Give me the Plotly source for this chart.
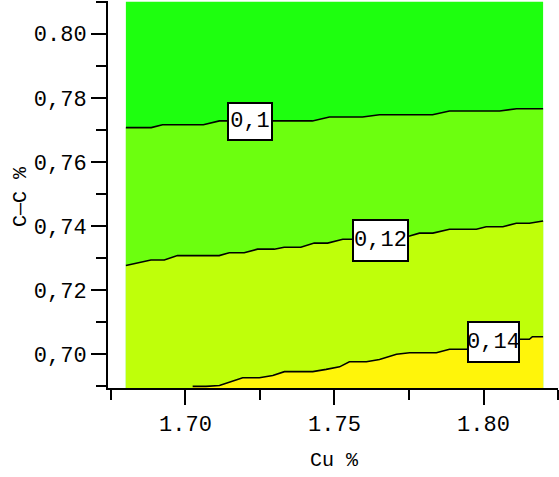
import plotly.graph_objects as go

# Data
x_edges = [1.68, 1.82]
y_top = [0.81, 0.81]

x_c010 = [1.68, 1.6885, 1.6923, 1.706, 1.7114, 1.7426, 1.7483, 1.7594, 1.7651,
          1.7829, 1.7886, 1.8054, 1.8111, 1.82]
y_c010 = [0.7707, 0.7707, 0.7716, 0.7716, 0.7728, 0.7728, 0.7740, 0.7740, 0.7747,
          0.7747, 0.7759, 0.7759, 0.7766, 0.7766]

x_c012 = [1.68, 1.6833, 1.6884, 1.6929, 1.6973, 1.7113, 1.7147, 1.7197, 1.7242,
          1.7298, 1.7331, 1.7387, 1.7432, 1.7477, 1.7510, 1.7528, 1.7561, 1.7752,
          1.7785, 1.7830, 1.7886, 1.7976, 1.8009, 1.8065, 1.8110, 1.8154, 1.82]
y_c012 = [0.7277, 0.7284, 0.7294, 0.7294, 0.7308, 0.7308, 0.7317, 0.7317, 0.7328,
          0.7328, 0.7334, 0.7334, 0.7347, 0.7347, 0.7355, 0.7359, 0.7359, 0.7369,
          0.7378, 0.7378, 0.7390, 0.7390, 0.7398, 0.7398, 0.7409, 0.7409, 0.7416]

x_c014 = [1.7024, 1.7069, 1.7114, 1.7153, 1.7192, 1.7248, 1.7293, 1.7332, 1.7427,
          1.7472, 1.7517, 1.7550, 1.7607, 1.7651, 1.7708, 1.7752, 1.7842, 1.7886,
          1.7943, 1.8121, 1.8154, 1.8164, 1.82]
y_c014 = [0.69, 0.69, 0.6903, 0.6914, 0.6927, 0.6927, 0.6934, 0.6946, 0.6946,
          0.6953, 0.6961, 0.6977, 0.6977, 0.6984, 0.7000, 0.7005, 0.7005, 0.7016,
          0.7016, 0.7047, 0.7047, 0.7055, 0.7055]

level_labels = ["0,1", "0,12", "0,14"]
label_x = [1.7218, 1.7656, 1.8034]
label_y = [0.7725, 0.7355, 0.7038]

x_tickvals = [1.70, 1.75, 1.80]
x_ticktext = ["1.70", "1.75", "1.80"]
y_tickvals = [0.70, 0.72, 0.74, 0.76, 0.78, 0.80]
y_ticktext = ["0,70", "0,72", "0,74", "0,76", "0,78", "0.80"]

x_title = "Cu %"
y_title = "C—C %"

band_colors = ["#1eff0f", "#6cff0f", "#bfff0a", "#fff50a"]
FONT = "Liberation Mono"

fig = go.Figure()
fills = [(x_edges, y_top), (x_c010, y_c010), (x_c012, y_c012), (x_c014, y_c014)]
for (xs, ys), col in zip(fills, band_colors):
    fig.add_trace(go.Scatter(x=xs, y=ys, mode="lines", line=dict(width=0, color=col),
                             fill="tozeroy", fillcolor=col, hoverinfo="skip",
                             showlegend=False))
for xs, ys in fills[1:]:
    fig.add_trace(go.Scatter(x=xs, y=ys, mode="lines", line=dict(width=1.6, color="black"),
                             hoverinfo="skip", showlegend=False))

sizes = [(42, 35), (53, 39), (49, 38)]
for t, xx, yy, (w, h) in zip(level_labels, label_x, label_y, sizes):
    fig.add_annotation(x=xx, y=yy, text=t, showarrow=False,
                       font=dict(family=FONT, size=22, color="black"),
                       bgcolor="white", bordercolor="black", borderwidth=2,
                       borderpad=0, width=w, height=h)

fig.add_annotation(x=0.5044, y=-0.1886, xref="paper", yref="paper", text=x_title,
                   xanchor="center", yanchor="middle",
                   showarrow=False, font=dict(family=FONT, size=20, color="black"))
fig.add_annotation(x=-0.1956, y=0.496, xref="paper", yref="paper", text=y_title,
                   xanchor="center", yanchor="middle",
                   showarrow=False, textangle=-90,
                   font=dict(family=FONT, size=20, color="black"))

axis_common = dict(showline=True, linecolor="black", linewidth=2, ticks="outside",
                   tickcolor="black", tickwidth=2, ticklen=15, showgrid=False,
                   zeroline=False, mirror=False, automargin=False,
                   tickfont=dict(family=FONT, size=22, color="black"))

fig.update_xaxes(range=[1.674, 1.825], tickvals=x_tickvals, ticktext=x_ticktext,
                 minor=dict(tickvals=[1.675, 1.725, 1.775, 1.825], ticklen=10,
                            tickcolor="black", tickwidth=2, ticks="outside"),
                 **axis_common)
fig.update_yaxes(range=[0.6895, 0.8102], tickvals=y_tickvals, ticktext=y_ticktext,
                 minor=dict(tickvals=[0.69, 0.71, 0.73, 0.75, 0.77, 0.79, 0.81],
                            ticklen=10, tickcolor="black", tickwidth=2, ticks="outside"),
                 **axis_common)

fig.update_layout(width=559, height=477, margin=dict(l=108, r=1, t=1, b=89),
                  paper_bgcolor="white", plot_bgcolor="white")
fig.write_html("out.html", config={"displayModeBar": False},
               post_script="document.body.style.margin='0';")
